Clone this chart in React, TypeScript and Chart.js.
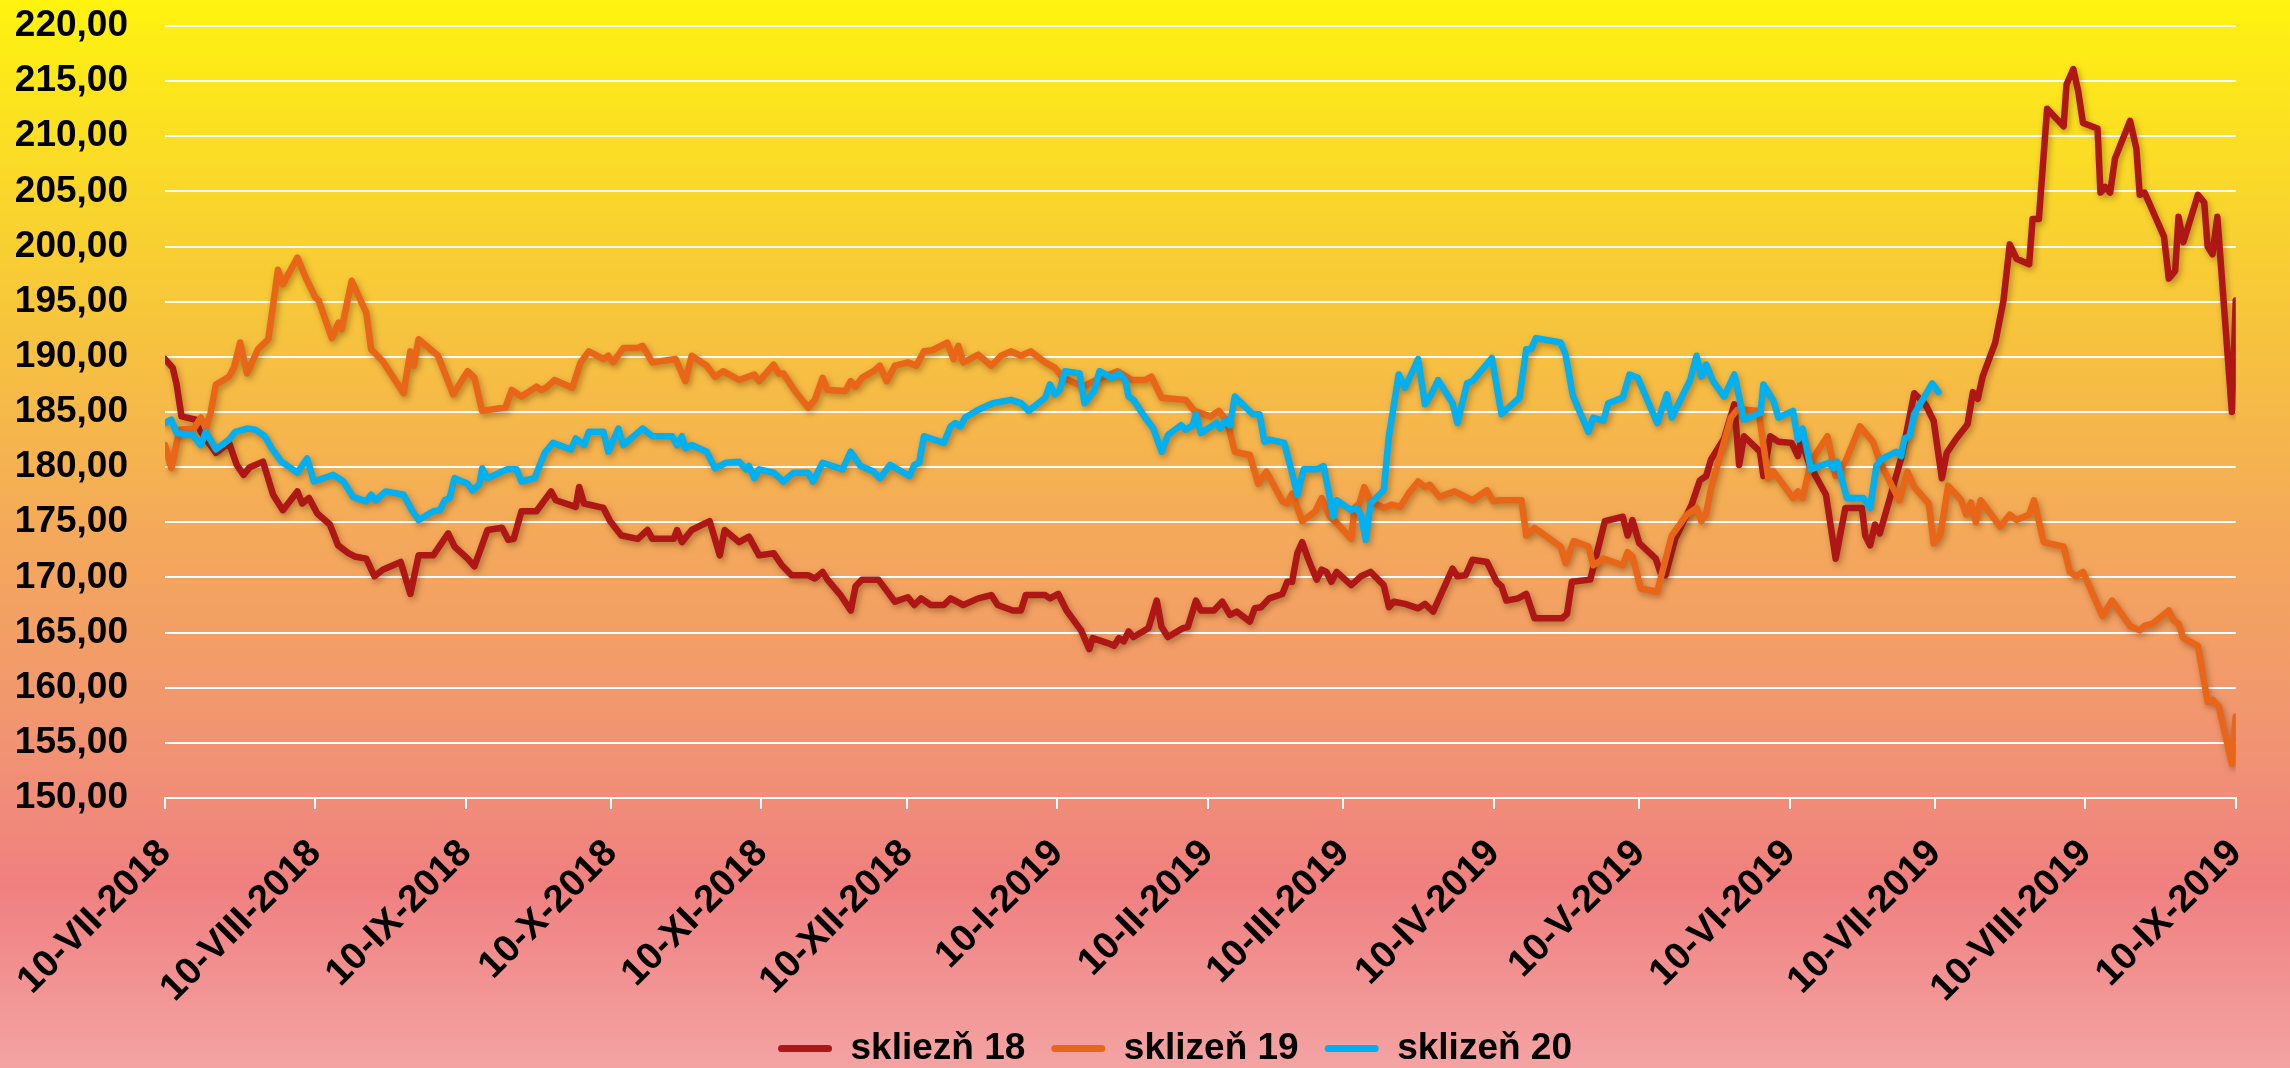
import React, { useEffect, useRef } from 'react';
import { Chart, registerables } from 'chart.js';

Chart.register(...registerables);

// ---- axis ticks ----
const tickDates = [
  '2018-07-10', '2018-08-10', '2018-09-10', '2018-10-10', '2018-11-10', '2018-12-10',
  '2019-01-10', '2019-02-10', '2019-03-10', '2019-04-10', '2019-05-10', '2019-06-10',
  '2019-07-10', '2019-08-10', '2019-09-10',
];
const tickLabels = [
  '10-VII-2018', '10-VIII-2018', '10-IX-2018', '10-X-2018', '10-XI-2018', '10-XII-2018',
  '10-I-2019', '10-II-2019', '10-III-2019', '10-IV-2019', '10-V-2019', '10-VI-2019',
  '10-VII-2019', '10-VIII-2019', '10-IX-2019',
];
const yMin = 150;
const yMax = 220;
const yStep = 5;

const seriesNames = ['skliezň 18', 'sklizeň 19', 'sklizeň 20'];
const seriesColors = ['#AF1616', '#E96619', '#00B0F0'];

// ---- series (x = days since 10-VII-2018) ----
const s18Days = [0, 1.6, 2.4, 3.4, 6.4, 7.4, 10.5, 13.2, 14.8, 16.2, 17.5, 20.2, 22.3, 24.3, 27.3, 28.3, 29.7, 31.4, 34, 35.7, 37.8, 39.1, 41.5, 43.2, 44.9, 48.6, 50.6, 52.3, 55.3, 58.4, 59.7, 62.4, 63.8, 66.5, 69.5, 70.8, 71.9, 73.5, 76.6, 79.6, 80.6, 84.7, 85.4, 86.4, 90.4, 91.8, 94.1, 97.5, 99.5, 100.5, 104.9, 105.6, 106.6, 108.6, 112.3, 114.4, 115.4, 118.4, 120.4, 122.5, 125.5, 127.2, 129.2, 132.6, 134, 135.6, 136.6, 139.3, 141.4, 142.4, 143.7, 147.1, 148.8, 150.5, 153.2, 154.5, 155.9, 157.9, 160.6, 162, 164.6, 167.7, 170.4, 171.7, 174.8, 176.5, 177.5, 181.5, 182.5, 184.2, 185.9, 188.9, 190.6, 191.3, 194.7, 195.7, 196.7, 197.7, 198.7, 199.7, 202.8, 204.5, 205.5, 206.8, 209.9, 210.9, 212.6, 213.6, 216.3, 218, 219.6, 221, 223.7, 224.7, 226, 227.7, 230.4, 231.4, 232.4, 233.5, 234.5, 235.8, 237.5, 238.5, 239.5, 240.5, 241.6, 244.6, 246.6, 248.6, 251.3, 252.4, 253.4, 255.7, 258.4, 259.8, 261.5, 265.5, 266.5, 268.2, 269.6, 272.6, 274.6, 275.6, 276.6, 279, 280.7, 282.4, 288.1, 289.1, 290.1, 293.9, 296.9, 300.6, 301.6, 302.6, 304, 307.4, 308.4, 309.4, 311.4, 314.8, 316.5, 317.8, 318.8, 321.5, 323.6, 324.6, 325.6, 328.9, 329.6, 331, 332.7, 335.4, 336.7, 337.4, 339.1, 342.5, 344.5, 346.5, 349.9, 350.6, 351.6, 352.6, 353.6, 355.3, 358, 359, 360.7, 363, 364.7, 366.4, 367.4, 369.4, 371.7, 372.8, 373.8, 374.8, 377.4, 379.1, 380.4, 381.8, 384.4, 385.1, 386.4, 388.1, 391.5, 392.1, 393.5, 394.5, 395.5, 398.5, 399.1, 400.1, 401.1, 402.1, 405.2, 406.5, 407.2, 408.2, 412.2, 413.2, 414.5, 415.2, 416.2, 419.2, 420.5, 421.2, 422.2, 423.2, 426.2, 427];
const s18Values = [189.8, 189.0, 187.5, 184.6, 184.3, 183.2, 181.3, 182.2, 180.2, 179.3, 180.0, 180.5, 177.5, 176.1, 177.8, 176.7, 177.2, 175.8, 174.8, 172.9, 172.2, 171.9, 171.7, 170.1, 170.7, 171.4, 168.5, 172.0, 172.0, 174.0, 172.8, 171.7, 171.0, 174.3, 174.5, 173.4, 173.5, 176.0, 176.0, 177.8, 177.0, 176.4, 178.2, 176.7, 176.3, 175.1, 173.8, 173.5, 174.3, 173.5, 173.5, 174.3, 173.2, 174.3, 175.1, 172.0, 174.3, 173.2, 173.7, 172.0, 172.2, 171.1, 170.2, 170.2, 169.9, 170.5, 169.8, 168.4, 167.0, 169.2, 169.8, 169.8, 168.8, 167.8, 168.2, 167.5, 168.1, 167.5, 167.5, 168.1, 167.5, 168.1, 168.4, 167.5, 167.0, 167.0, 168.4, 168.4, 168.1, 168.5, 167.0, 165.2, 163.5, 164.5, 164.0, 163.8, 164.5, 164.2, 165.1, 164.6, 165.4, 167.9, 165.5, 164.6, 165.4, 165.5, 167.9, 167.0, 167.0, 167.8, 166.6, 166.9, 166.0, 167.2, 167.3, 168.1, 168.5, 169.6, 169.6, 172.2, 173.2, 171.6, 169.8, 170.7, 170.5, 169.6, 170.5, 169.3, 170.1, 170.5, 169.3, 167.3, 167.8, 167.6, 167.2, 167.6, 166.9, 170.8, 170.1, 170.2, 171.6, 171.4, 169.6, 169.2, 167.9, 168.1, 168.5, 166.3, 166.3, 166.7, 169.6, 169.8, 175.1, 175.5, 173.8, 175.2, 173.1, 171.7, 170.4, 170.2, 173.5, 176.6, 178.8, 179.2, 180.7, 182.6, 185.7, 180.2, 182.8, 181.4, 179.2, 182.8, 182.3, 182.2, 181.0, 182.5, 180.2, 177.5, 171.7, 176.3, 176.3, 173.8, 172.9, 174.8, 174.0, 176.6, 180.8, 182.9, 186.7, 185.7, 184.2, 179.0, 181.3, 182.6, 183.9, 186.8, 186.2, 188.2, 191.3, 195.1, 200.2, 198.9, 198.4, 202.5, 202.5, 212.5, 210.9, 214.7, 216.1, 214.1, 211.2, 210.7, 204.9, 205.4, 204.9, 208.0, 211.4, 208.9, 204.7, 204.9, 200.9, 197.1, 197.8, 202.7, 200.4, 204.7, 204.0, 200.0, 199.3, 202.7, 185.0, 195.1];

const s19Days = [0, 1.3, 3, 6, 7.4, 8.4, 9.4, 10.5, 13.2, 14.2, 15.5, 16.9, 19.2, 21.3, 23.3, 24.3, 27.3, 29, 31, 31.7, 34.4, 35.8, 36.4, 38.5, 41.5, 42.5, 44.9, 49.2, 50.6, 51.3, 52.3, 56.3, 59.4, 62.4, 63.8, 65.4, 70.2, 71.5, 73.5, 76.6, 77.6, 78.6, 80.3, 84, 85.7, 87.4, 90.4, 91.4, 92.4, 94.5, 97.5, 98.5, 100.5, 105.3, 107.3, 108.6, 111.7, 113.4, 115.1, 118.4, 121.5, 122.5, 125.5, 126.5, 127.5, 129.9, 132.6, 134, 135.6, 136.6, 140.3, 141.4, 142.4, 143.7, 146.1, 147.4, 148.8, 150.5, 153.2, 154.9, 156.5, 158.2, 161.3, 162.6, 163.6, 164.6, 167.7, 170.4, 172.4, 174.4, 176.5, 178.5, 181.5, 183.5, 185.2, 189.3, 192, 196.4, 199.4, 202.1, 203.4, 205.5, 210.5, 212.2, 213.6, 215.6, 217.3, 219, 220.6, 223.7, 225.4, 227.1, 230.4, 231.4, 232.4, 234.5, 237.2, 238.5, 240.2, 241.9, 244.6, 245.3, 246.3, 247.3, 248.6, 251.3, 253, 254.7, 256.4, 258.4, 259.8, 260.8, 262.8, 265.9, 269.6, 272.6, 273.9, 275.3, 279.7, 280.7, 282.4, 287.8, 288.8, 290.5, 293.5, 294.5, 296.6, 300.6, 301.6, 302.6, 304.3, 307.7, 310.7, 313.8, 315.8, 316.8, 317.8, 318.8, 322.9, 324.2, 325.9, 328.6, 330.6, 331.7, 335.7, 336.7, 337.7, 339.4, 342.8, 344.5, 346.5, 349.5, 352.2, 353.6, 357.6, 359.3, 360.7, 363.7, 364.7, 366.1, 367.7, 370.4, 371.4, 372.4, 373.4, 374.4, 378.4, 380.4, 381.8, 384.4, 385.4, 387.4, 391.5, 392.8, 394.1, 395.5, 399.5, 401.5, 405.2, 407.2, 408.2, 409.8, 413.2, 414.2, 415.2, 416.2, 419.2, 421.2, 422.2, 423.5, 426.2, 427];
const s19Values = [182.0, 179.9, 183.4, 183.5, 184.5, 183.5, 184.9, 187.5, 188.2, 189.0, 191.3, 188.5, 190.7, 191.6, 197.9, 196.6, 199.0, 197.2, 195.4, 195.1, 191.7, 193.1, 192.5, 196.9, 194.0, 190.7, 189.6, 186.7, 190.5, 189.2, 191.6, 190.1, 186.6, 188.7, 188.1, 185.1, 185.4, 187.0, 186.4, 187.3, 187.0, 187.2, 187.9, 187.2, 189.5, 190.5, 189.8, 190.1, 189.5, 190.8, 190.8, 191.0, 189.5, 189.8, 187.8, 190.1, 189.2, 188.2, 188.7, 187.9, 188.4, 187.8, 189.3, 188.5, 188.5, 186.9, 185.4, 186.1, 188.1, 187.0, 186.9, 187.8, 187.3, 188.1, 188.7, 189.2, 187.8, 189.2, 189.5, 189.2, 190.5, 190.6, 191.3, 189.8, 191.0, 189.5, 190.2, 189.2, 190.1, 190.5, 190.1, 190.5, 189.5, 189.0, 188.1, 187.3, 187.9, 188.7, 187.9, 187.9, 188.2, 186.3, 186.1, 185.1, 184.9, 184.6, 185.1, 184.2, 181.4, 181.1, 178.5, 179.6, 176.9, 176.7, 177.6, 175.1, 176.0, 177.2, 175.5, 174.8, 173.5, 176.3, 176.7, 178.2, 176.9, 176.3, 176.6, 176.4, 177.6, 178.7, 178.2, 178.4, 177.3, 177.8, 177.0, 177.9, 176.9, 177.0, 177.0, 173.8, 174.5, 172.8, 171.3, 173.3, 172.8, 171.1, 171.7, 171.1, 172.3, 171.9, 169.0, 168.7, 173.8, 175.7, 176.3, 175.1, 175.8, 178.1, 184.5, 185.2, 185.2, 185.1, 179.0, 179.6, 177.2, 177.8, 177.2, 180.5, 182.8, 179.2, 180.5, 183.7, 182.3, 180.5, 177.0, 179.6, 178.2, 176.7, 173.1, 173.9, 178.3, 177.0, 175.7, 176.8, 175.0, 177.0, 174.6, 175.7, 175.2, 175.7, 177.0, 173.2, 172.8, 170.5, 170.1, 170.5, 166.5, 167.9, 165.6, 165.2, 165.6, 165.8, 167.0, 166.1, 165.8, 164.5, 163.8, 158.7, 158.9, 158.3, 153.1, 157.4];

const s20Days = [0, 1.3, 2.4, 5.7, 7.4, 8.4, 10.5, 13.2, 14.5, 16.9, 18.6, 20.6, 22, 24, 27.3, 29.3, 30.7, 34.7, 36.8, 38.8, 41.5, 42.5, 43.5, 45.5, 49.2, 50.9, 52.3, 55.3, 56.7, 57.7, 58.7, 59.7, 62.4, 63.4, 64.8, 65.4, 66.5, 70.5, 72.5, 73.5, 76.2, 78.3, 80, 83.7, 84.7, 86.4, 87.4, 90.4, 91.4, 93.5, 94.5, 98.5, 100.5, 104.6, 105.6, 106.6, 107.3, 108.6, 111.7, 113.4, 115.7, 118.4, 119.8, 120.4, 121.5, 122.5, 125.5, 127.5, 129.6, 132.6, 133.6, 135.6, 139.7, 141.4, 143.4, 146.1, 147.4, 149.5, 153.5, 154.5, 155.5, 156.5, 160.6, 162, 163, 164, 165, 167.7, 170.7, 174.4, 176.5, 178.1, 181.5, 182.5, 183.5, 184.5, 185.6, 188.6, 189.6, 191.6, 192.7, 195.3, 196.7, 198, 198.7, 199.7, 202.1, 203.8, 205.5, 206.8, 209.5, 210.5, 211.9, 212.6, 213.6, 216.9, 217.6, 218.6, 219.6, 220.6, 224.3, 225.7, 226.7, 227.7, 230.8, 231.8, 233.5, 234.8, 237.5, 238.9, 239.9, 240.9, 241.6, 244.6, 245.6, 246.6, 247.6, 248.6, 251.3, 252.4, 254.4, 255.7, 258.4, 259.8, 261.1, 262.5, 265.5, 266.5, 268.5, 269.6, 271.9, 273.6, 275.6, 279.3, 280.7, 281.7, 282.7, 287.8, 288.8, 290.3, 293.5, 294.5, 296.6, 297.6, 300.6, 302, 303.7, 307.7, 309.7, 310.7, 314.5, 315.8, 316.8, 317.8, 319.2, 321.5, 323.6, 325.6, 329, 329.6, 331.7, 332.7, 335.7, 336.7, 337.7, 339.4, 343.1, 344.1, 344.8, 346.8, 350.2, 351.6, 352.9, 353.9, 357, 358, 358.7, 359.7, 360.7, 364.4, 365.7];
const s20Values = [184.0, 184.3, 183.1, 182.9, 182.0, 183.2, 181.6, 182.5, 183.2, 183.5, 183.4, 182.8, 181.7, 180.5, 179.5, 180.8, 178.7, 179.3, 178.7, 177.3, 176.9, 177.5, 177.0, 177.8, 177.5, 176.1, 175.2, 176.0, 176.1, 177.0, 177.2, 179.0, 178.5, 177.9, 178.4, 179.9, 179.0, 179.8, 179.8, 178.7, 179.0, 181.3, 182.2, 181.6, 182.6, 182.0, 183.2, 183.2, 181.4, 183.5, 182.0, 183.5, 182.8, 182.8, 182.0, 182.8, 181.7, 182.0, 181.4, 179.9, 180.4, 180.5, 179.8, 180.1, 179.0, 179.8, 179.5, 178.7, 179.5, 179.5, 178.7, 180.4, 179.8, 181.4, 180.1, 179.6, 179.0, 180.2, 179.2, 180.2, 180.4, 182.8, 182.2, 183.7, 184.0, 183.7, 184.5, 185.2, 185.8, 186.1, 185.8, 185.1, 186.3, 187.5, 186.6, 187.0, 188.7, 188.5, 185.8, 186.9, 188.7, 188.1, 188.5, 187.9, 186.4, 186.1, 184.5, 183.5, 181.4, 182.9, 183.8, 183.4, 183.8, 184.8, 183.1, 184.0, 183.5, 184.2, 183.8, 186.4, 184.8, 184.8, 182.3, 182.5, 182.2, 180.5, 177.5, 179.8, 179.8, 180.1, 177.9, 175.5, 177.0, 176.1, 176.3, 175.7, 173.4, 176.7, 177.9, 182.9, 188.4, 187.2, 189.8, 185.7, 186.6, 187.9, 185.8, 184.0, 187.6, 187.8, 189.0, 189.9, 184.8, 186.3, 190.7, 190.7, 191.7, 191.3, 190.2, 186.5, 183.2, 184.5, 184.2, 185.8, 186.3, 188.4, 188.1, 184.0, 186.6, 184.5, 187.9, 190.1, 188.2, 189.3, 187.8, 186.4, 188.4, 184.3, 184.9, 187.5, 186.0, 184.5, 185.1, 182.5, 183.5, 179.8, 180.4, 179.9, 180.5, 177.2, 177.2, 176.3, 180.1, 180.7, 181.4, 181.0, 182.6, 182.8, 184.8, 187.6, 186.8];

const START = Date.UTC(2018, 6, 10);
const dayOf = (iso: string) => Math.round((Date.parse(iso) - START) / 86400000);
const tickDays = tickDates.map(dayOf);

const FONT = '"Liberation Sans", Arial, sans-serif';
const W = 2290;
const H = 1068;
const PLOT_LEFT = 165;
const X_AXIS_H = 206;
const LEGEND_SHIFT = 38;

const zip = (xs: number[], ys: number[]) => xs.map((x, i) => ({ x, y: ys[i] }));

const bgPlugin = {
  id: 'bgGradient',
  beforeDraw(chart: any) {
    const { ctx, width, height } = chart;
    const g = ctx.createLinearGradient(0, 0, 0, height);
    g.addColorStop(0, '#FFF30F');
    g.addColorStop(0.12, '#FBE022');
    g.addColorStop(0.3, '#F7C53C');
    g.addColorStop(0.5, '#F4A95A');
    g.addColorStop(0.7, '#F19373');
    g.addColorStop(0.83, '#F08080');
    g.addColorStop(1, '#F4A3A3');
    ctx.save();
    ctx.fillStyle = g;
    ctx.fillRect(0, 0, width, height);
    ctx.restore();
  },
};

const shadowPlugin = {
  id: 'lineShadow',
  beforeDatasetsDraw(chart: any) {
    const ctx = chart.ctx;
    ctx.save();
    ctx.shadowColor = 'rgba(80,40,0,0.4)';
    ctx.shadowBlur = 6;
    ctx.shadowOffsetX = 2;
    ctx.shadowOffsetY = 3;
  },
  afterDatasetsDraw(chart: any) {
    chart.ctx.restore();
  },
};

const legendShiftPlugin = {
  id: 'legendShift',
  afterLayout(chart: any) {
    if (chart.legend) {
      chart.legend.left += LEGEND_SHIFT;
      chart.legend.right += LEGEND_SHIFT;
    }
  },
};

export default function App() {
  const ref = useRef<HTMLCanvasElement>(null);

  useEffect(() => {
    document.body.style.margin = '0';
    if (!ref.current) return;
    const datasets = [
      { label: seriesNames[0], data: zip(s18Days, s18Values), borderColor: seriesColors[0], backgroundColor: seriesColors[0], order: 2 },
      { label: seriesNames[1], data: zip(s19Days, s19Values), borderColor: seriesColors[1], backgroundColor: seriesColors[1], order: 1 },
      { label: seriesNames[2], data: zip(s20Days, s20Values), borderColor: seriesColors[2], backgroundColor: seriesColors[2], order: 0 },
    ].map((d) => ({ ...d, borderWidth: 6.5, pointRadius: 0, tension: 0, fill: false, borderJoinStyle: 'round' as const, borderCapStyle: 'round' as const }));

    const chart = new Chart(ref.current, {
      type: 'line',
      data: { datasets },
      plugins: [bgPlugin, shadowPlugin, legendShiftPlugin],
      options: {
        animation: false,
        responsive: false,
        devicePixelRatio: 1,
        layout: { padding: { top: 26, left: 0, right: 16, bottom: -9 } },
        plugins: {
          tooltip: { enabled: false },
          legend: {
            position: 'bottom',
            labels: {
              color: '#000',
              font: { family: FONT, size: 37, weight: 'bold' },
              boxWidth: 54,
              boxHeight: 7,
              padding: 26,
              useBorderRadius: true,
              borderRadius: 3.5,
              generateLabels: (c: any) =>
                c.data.datasets.map((ds: any, i: number) => ({
                  text: ds.label,
                  fillStyle: ds.borderColor,
                  strokeStyle: ds.borderColor,
                  lineWidth: 0,
                  hidden: false,
                  datasetIndex: i,
                  fontColor: '#000',
                  borderRadius: 3.5,
                })),
            },
          },
        },
        scales: {
          x: {
            type: 'linear',
            min: tickDays[0],
            max: tickDays[tickDays.length - 1],
            afterBuildTicks: (s: any) => {
              s.ticks = tickDays.map((v) => ({ value: v }));
            },
            afterFit: (s: any) => {
              s.height = X_AXIS_H;
            },
            ticks: {
              autoSkip: false,
              maxRotation: 45,
              minRotation: 45,
              padding: 22,
              color: '#000',
              font: { family: FONT, size: 38, weight: 'bold' },
              callback: (v: any) => {
                const i = tickDays.indexOf(Number(v));
                return i >= 0 ? tickLabels[i] : '';
              },
            },
            grid: { drawOnChartArea: false, drawTicks: true, tickLength: 11, color: '#FFFFFF', lineWidth: 2 },
            border: { display: true, color: '#FFFFFF', width: 2 },
          },
          y: {
            min: yMin,
            max: yMax,
            afterFit: (s: any) => {
              s.width = PLOT_LEFT;
            },
            ticks: {
              stepSize: yStep,
              padding: 3,
              color: '#000',
              font: { family: FONT, size: 37, weight: 'bold' },
              callback: (v: any) => Number(v).toFixed(2).replace('.', ','),
            },
            grid: { color: '#FFFFFF', lineWidth: 2, drawTicks: true, tickLength: 34, tickColor: 'rgba(0,0,0,0)' },
            border: { display: false },
          },
        },
      },
    });
    return () => chart.destroy();
  }, []);

  return (
    <div style={{ width: W, height: H }}>
      <canvas ref={ref} width={W} height={H} style={{ display: 'block', width: W, height: H }} />
    </div>
  );
}
